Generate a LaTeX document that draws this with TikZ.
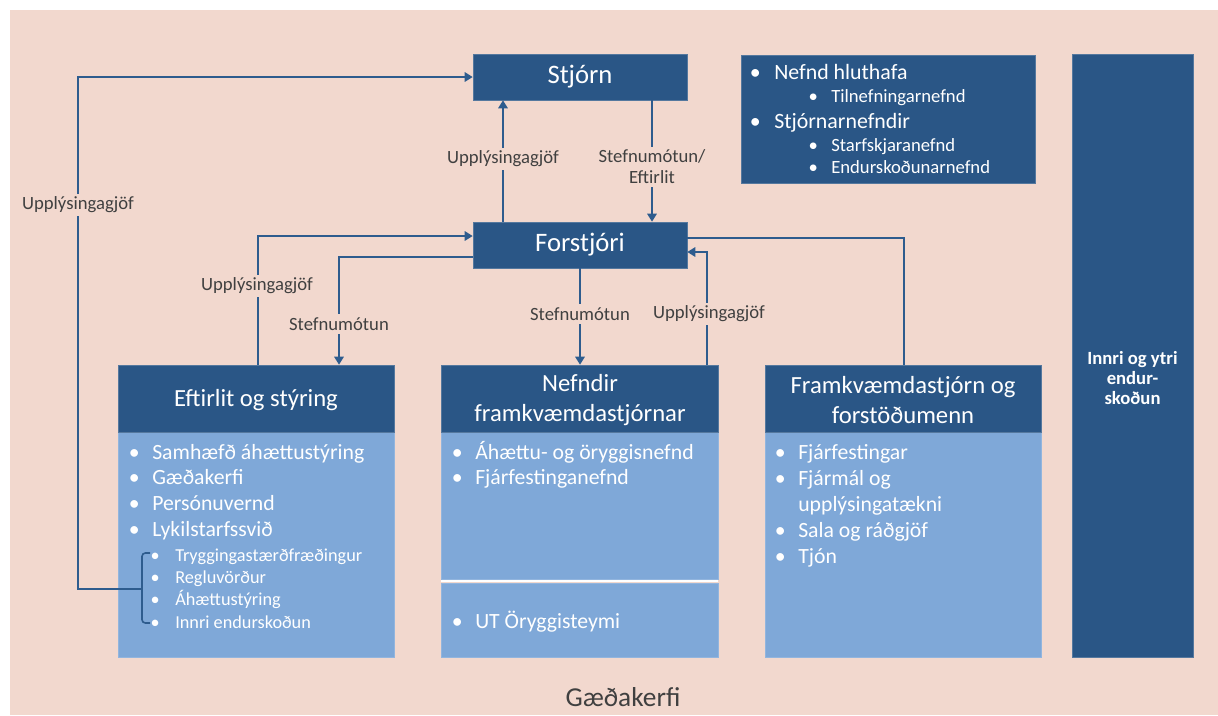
\documentclass[tikz,border=0pt]{standalone}
\usepackage{fontspec}
\setmainfont{Carlito}
\usetikzlibrary{fit,arrows.meta}
\definecolor{bg}{HTML}{F2D8CE}
\definecolor{dblue}{HTML}{2A5686}
\definecolor{lblue}{HTML}{7FA8D8}
\definecolor{lnc}{HTML}{2E5C8E}
\definecolor{tgray}{HTML}{404040}
\newcommand\fs[2]{\fontsize{#1}{#2}\selectfont}
\newcommand\bu[1]{\makebox[0pt][c]{•}\hspace{#1}}
\begin{document}
\begin{tikzpicture}[x=0.75pt,y=-0.75pt,
  dbox/.style={fill=dblue, draw=dblue!80!white, line width=0.4pt, inner sep=0pt},
  lbox/.style={fill=lblue, draw=lblue!85!white, line width=0.4pt, inner sep=0pt},
  htxt/.style={text=white, inner sep=0pt, align=center},
  conn/.style={draw=lnc, line width=1.4pt},
  arr/.style={conn, -{Triangle[length=6pt,width=7pt]}},
  lab/.style={fill=bg, text=tgray, inner sep=2.5pt, font=\fs{14}{15.75}, align=center},
  listn/.style={text=white, inner sep=0pt, anchor=base west, align=left},
]
\useasboundingbox (0,0) rectangle (1218,715);
\fill[white] (0,0) rectangle (1218,715);
\fill[bg] (10,10) rectangle (1218,715);

% main boxes
\node[dbox, fit={(473,54)(687,100)}] (stjorn) {};
\node[htxt, font=\fs{20}{24}] (stjorntxt) at (580,77) {Stjórn};
\node[dbox, fit={(473,222)(687,268)}] (forstj) {};
\node[htxt, font=\fs{20}{24}] (forstjtxt) at (580,245) {Forstjóri};
\node[dbox, fit={(741,55)(1035,183)}] (nefndbox) {};
\node[dbox, fit={(1072,54)(1193,657)}] (innri) {};
\node[htxt, font=\bfseries\fs{14}{15}] (innritxt) at (1132.5,378) {Innri og ytri\\endur-\\skoðun};

% lower columns
\node[lbox, fit={(118,432)(394,657)}] (eftbody) {};
\node[dbox, fit={(118,365)(394,432)}] (eft) {};
\node[htxt, font=\fs{18.5}{22.5}] (efttxt) at (256,400) {Eftirlit og stýring};
\node[lbox, fit={(441,432)(718,579)}] (nefbody) {};
\node[lbox, fit={(441,583)(718,657)}] (nefbody2) {};
\draw[white, line width=1.5pt] (441,581) -- (718,581);
\node[dbox, fit={(441,365)(718,432)}] (nef) {};
\node[htxt, font=\fs{18.5}{22.5}] (neftxt) at (580,400) {Nefndir\\framkvæmdastjórnar};
\node[lbox, fit={(765,432)(1041,657)}] (frambody) {};
\node[dbox, fit={(765,365)(1041,432)}] (fram) {};
\node[htxt, font=\fs{18.5}{22.5}] (framtxt) at (903,400) {Framkvæmdastjórn og\\forstöðumenn};

% top-right list
\node[listn, font=\fs{16.4}{19}] (tr1) at (755,79) {\bu{14.25pt}Nefnd hluthafa};
\node[listn, font=\fs{14}{16}] (tr2) at (813,102) {\bu{13.5pt}Tilnefningarnefnd};
\node[listn, font=\fs{16.4}{19}] (tr3) at (755,128) {\bu{14.25pt}Stjórnarnefndir};
\node[listn, font=\fs{14}{16}] (tr4) at (813,151) {\bu{13.5pt}Starfskjaranefnd};
\node[listn, font=\fs{14}{16}] (tr5) at (813,173) {\bu{13.5pt}Endurskoðunarnefnd};

% lists in columns
\node[listn] (eftlist) at (134,459) {\fs{16.3}{19.3}\begin{tabular}[t]{@{}l@{}}
\bu{13.5pt}Samhæfð áhættustýring\\
\bu{13.5pt}Gæðakerfi\\
\bu{13.5pt}Persónuvernd\\
\bu{13.5pt}Lykilstarfssvið
\end{tabular}};
\node[listn] (eftsub) at (155,561) {\fs{13.7}{16.75}\begin{tabular}[t]{@{}l@{}}
\bu{15pt}Tryggingastærðfræðingur\\
\bu{15pt}Regluvörður\\
\bu{15pt}Áhættustýring\\
\bu{15pt}Innri endurskoðun
\end{tabular}};
\node[listn] (neflist) at (457,459) {\fs{16.3}{18.75}\begin{tabular}[t]{@{}l@{}}
\bu{13.5pt}Áhættu- og öryggisnefnd\\
\bu{13.5pt}Fjárfestinganefnd
\end{tabular}};
\node[listn, font=\fs{16.3}{19}] (ut) at (457,628) {\bu{13.5pt}UT Öryggisteymi};
\node[listn] (framlist) at (780,459) {\fs{16.3}{19.5}\begin{tabular}[t]{@{}l@{}}
\bu{13.5pt}Fjárfestingar\\
\bu{13.5pt}Fjármál og\\
\hspace{13.5pt}upplýsingatækni\\
\bu{13.5pt}Sala og ráðgjöf\\
\bu{13.5pt}Tjón
\end{tabular}};

% bottom title
\node[text=tgray, font=\fs{20.5}{24}] (gaeda) at (623,697) {Gæðakerfi};

% bracket
\coordinate (brt) at (150,553);
\coordinate (brb) at (150,623);
\coordinate (brm) at (142,589);
\draw[conn, line width=1.2pt, rounded corners=2.5pt] (brt) -- (142,553) -- (142,623) -- (brb);

% connector helper coordinates
\coordinate (cL) at (78,589);
\coordinate (c1) at (258,236);
\coordinate (c2) at (339,257);
\coordinate (c3) at (503,0);
\coordinate (c4) at (652,0);
\coordinate (c5) at (580,0);
\coordinate (c6) at (707,252);
\coordinate (c7) at (904,238);

% connectors
\draw[arr] (brm) -- (cL) |- (stjorn.west);
\draw[arr] (eft.north -| c1) |- (forstj.west |- c1);
\draw[arr] (forstj.west |- c2) -| (eft.north -| c2);
\draw[arr] (forstj.north -| c3) -- (stjorn.south -| c3);
\draw[arr] (stjorn.south -| c4) -- (forstj.north -| c4);
\draw[arr] (forstj.south -| c5) -- (nef.north -| c5);
\draw[arr] (nef.north -| c6) |- (forstj.east |- c6);
\draw[conn] (fram.north -| c7) |- (forstj.east |- c7);

% connector labels
\node[lab] (l1) at (78,205) {Upplýsingagjöf};
\node[lab] (l2) at (257,286) {Upplýsingagjöf};
\node[lab] (l3) at (339,324) {Stefnumótun};
\node[lab] (l4) at (503,159) {Upplýsingagjöf};
\node[lab] (l5) at (652,167) {Stefnumótun/\\Eftirlit};
\node[lab] (l6) at (580,314) {Stefnumótun};
\node[lab] (l7) at (709,314) {Upplýsingagjöf};
\end{tikzpicture}
\end{document}
